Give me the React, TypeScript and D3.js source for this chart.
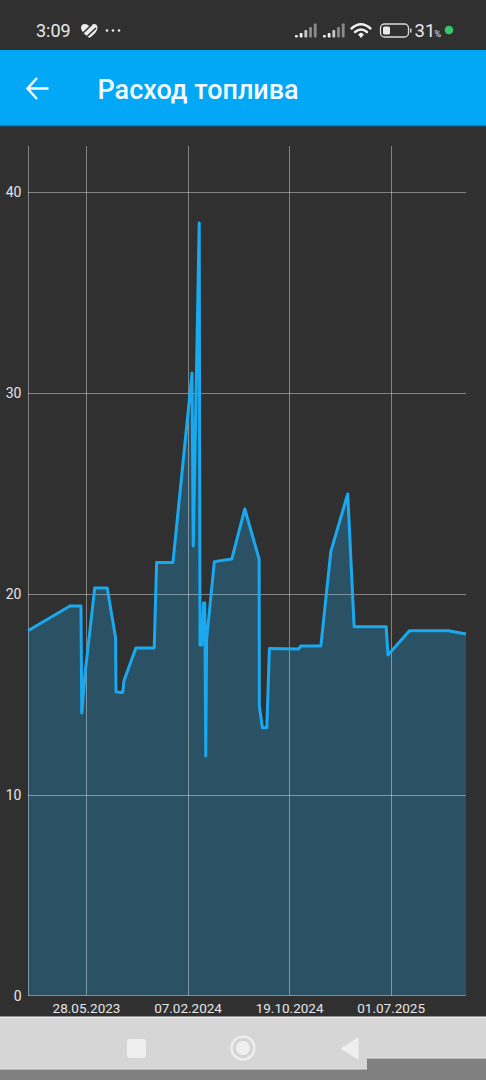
import React from "react";
import * as d3 from "d3";

// Days counted from the first labelled tick (28.05.2023)
const dayOffsets = [-147, -41.5, -14, -12, -4, 20.6, 52, 73, 74, 91, 94, 124, 170, 176, 217, 265, 268, 283, 285, 289.5, 294, 297, 299.5, 301.5, 321, 365, 397.5, 433.5, 434, 441.7, 452.8, 459.3, 532, 538, 588.5, 613.5, 656, 672, 752.5, 757, 811, 909, 953];
const consumption = [18.16, 19.39, 19.39, 14.06, 15.96, 20.29, 20.29, 17.8, 15.11, 15.09, 15.67, 17.3, 17.3, 21.55, 21.55, 30.99, 22.38, 38.46, 17.45, 17.45, 19.54, 19.54, 11.92, 17.7, 21.6, 21.73, 24.22, 21.72, 14.41, 13.33, 13.33, 17.28, 17.25, 17.4, 17.4, 22.09, 24.97, 18.36, 18.36, 16.95, 18.16, 18.16, 18.0];
const xTickDays = [0, 255, 510, 765];
const xTickLabels = ["28.05.2023", "07.02.2024", "19.10.2024", "01.07.2025"];
const yTicks = [0, 10, 20, 30, 40];
const title = "Расход топлива";

const W = 486, H = 1080;
const FONT = "Roboto, sans-serif";
const BG = "#303030", BLUE = "#02a8f6", LINE = "#1aa9ef";

const x = d3.scaleLinear().domain([-147, 953]).range([28, 466]);
const y = d3.scaleLinear().domain([0, 40]).range([995.5, 192]);
const points = dayOffsets.map((d, i) => [d, consumption[i]] as [number, number]);
const linePath = d3.line<[number, number]>().x(p => x(p[0])).y(p => y(p[1]))(points)!;
const areaPath = d3.area<[number, number]>().x(p => x(p[0])).y0(y(0)).y1(p => y(p[1]))(points)!;

function Signal({ x0 }: { x0: number }) {
  const hs = [2.5, 4.5, 7.5, 10.5, 14];
  return (
    <g>
      {hs.map((h, i) => (
        <rect key={i} x={x0 + i * 4.7} y={37.5 - h} width={2.8} height={h} rx={0.8} fill={i < 2 ? "#f0f0f0" : i === 2 ? "#c8c8c8" : "#8a8a8a"} />
      ))}
    </g>
  );
}

export default function App() {
  return (
    <svg width={W} height={H} viewBox={`0 0 ${W} ${H}`} style={{ position: "absolute", left: 0, top: 0, display: "block" }}>
      <rect width={W} height={H} fill={BG} />

      {/* status bar */}
      <text x={36} y={37} fontFamily={FONT} fontSize={18} fill="#e8e8e8">3:09</text>
      <path d="M81 28 Q81 24 85 24 Q88 24 89.5 26.5 Q91 24 94 24 Q97.5 24 97.5 28 Q97.5 32 89.5 38 Q81 32 81 28 Z" fill="#ededed" />
      <path d="M83 33 L92 24.5 M87 36.5 L96 28" stroke={BG} strokeWidth={1.6} fill="none" />
      <g fill="#e8e8e8">
        <circle cx={107} cy={30.5} r={1.3} />
        <circle cx={113} cy={30.5} r={1.3} />
        <circle cx={119} cy={30.5} r={1.3} />
      </g>
      <Signal x0={295} />
      <Signal x0={323} />
      <g fill="none" stroke="#efefef" strokeWidth={2.4} strokeLinecap="round">
        <path d="M351.5 28.5 Q361 20 370.5 28.5" />
        <path d="M355 32 Q361 27 367 32" />
      </g>
      <path d="M358 34.5 L361 32.5 L364 34.5 L361 38 Z" fill="#efefef" />
      <rect x={380.5} y={24} width={28} height={13} rx={4} fill="none" stroke="#d8d8d8" strokeWidth={1.3} />
      <rect x={383} y={26.5} width={7} height={8} rx={1.5} fill="#e8e8e8" />
      <rect x={410} y={28.5} width={1.5} height={4} fill="#d0d0d0" />
      <text x={414.5} y={37} fontFamily={FONT} fontSize={18.5} fill="#e8e8e8">31</text>
      <text x={434.5} y={37} fontFamily={FONT} fontSize={9} fill="#e0e0e0">%</text>
      <circle cx={449} cy={30} r={4.3} fill="#35c96a" />

      {/* app bar */}
      <rect x={0} y={50} width={W} height={75} fill={BLUE} />
      <rect x={0} y={125} width={W} height={1.5} fill="#1f6f96" />
      <path d="M27.5 88.5 H48.5 M37 78 L27.5 88.5 L37 99" fill="none" stroke="#f4fbff" strokeWidth={2.5} />
      <text x={97.5} y={98.5} fontFamily={FONT} fontWeight={500} fontSize={27} fill="#f2faff">{title}</text>

      {/* chart */}
      <path d={areaPath} fill={LINE} fillOpacity={0.27} />
      <g stroke="#ffffff" strokeOpacity={0.4} strokeWidth={1}>
        <line x1={28.5} x2={28.5} y1={146} y2={995.5} />
        {xTickDays.map(d => (
          <line key={d} x1={Math.floor(x(d)) + 0.5} x2={Math.floor(x(d)) + 0.5} y1={146} y2={995.5} />
        ))}
        {yTicks.filter(t => t > 0).map(t => (
          <line key={t} x1={28} x2={466} y1={Math.round(y(t)) + 0.5} y2={Math.round(y(t)) + 0.5} />
        ))}
        <line x1={28} x2={466} y1={995.5} y2={995.5} />
      </g>
      <path d={linePath} fill="none" stroke={LINE} strokeWidth={3} strokeLinejoin="round" />

      {yTicks.map(t => (
        <text key={t} x={21.5} y={y(t) + 5} textAnchor="end" fontFamily={FONT} fontSize={14} fill="#e6e6e6">{t}</text>
      ))}
      {xTickDays.map((d, i) => (
        <text key={d} x={x(d)} y={1013} textAnchor="middle" fontFamily={FONT} fontSize={13.5} fill="#e6e6e6">{xTickLabels[i]}</text>
      ))}

      {/* navigation bar */}
      <rect x={0} y={1016.5} width={W} height={1.5} fill="#eeeeee" />
      <rect x={0} y={1018} width={W} height={62} fill="#d6d6d6" />
      <rect x={0} y={1069} width={367} height={11} fill="#808080" />
      <rect x={367} y={1058} width={119} height={22} fill="#808080" />
      <rect x={0} y={1068.5} width={367} height={1} fill="#e6e6e6" />
      <rect x={367} y={1057.5} width={119} height={1} fill="#e6e6e6" />
      <rect x={127} y={1039} width={19} height={19} rx={3} fill="#efefef" />
      <circle cx={243} cy={1048} r={11.5} fill="none" stroke="#efefef" strokeWidth={2.2} />
      <circle cx={243} cy={1048} r={7} fill="#efefef" />
      <path d="M358 1038 V1059 L341 1048.5 Z" fill="#efefef" stroke="#efefef" strokeLinejoin="round" />
    </svg>
  );
}
